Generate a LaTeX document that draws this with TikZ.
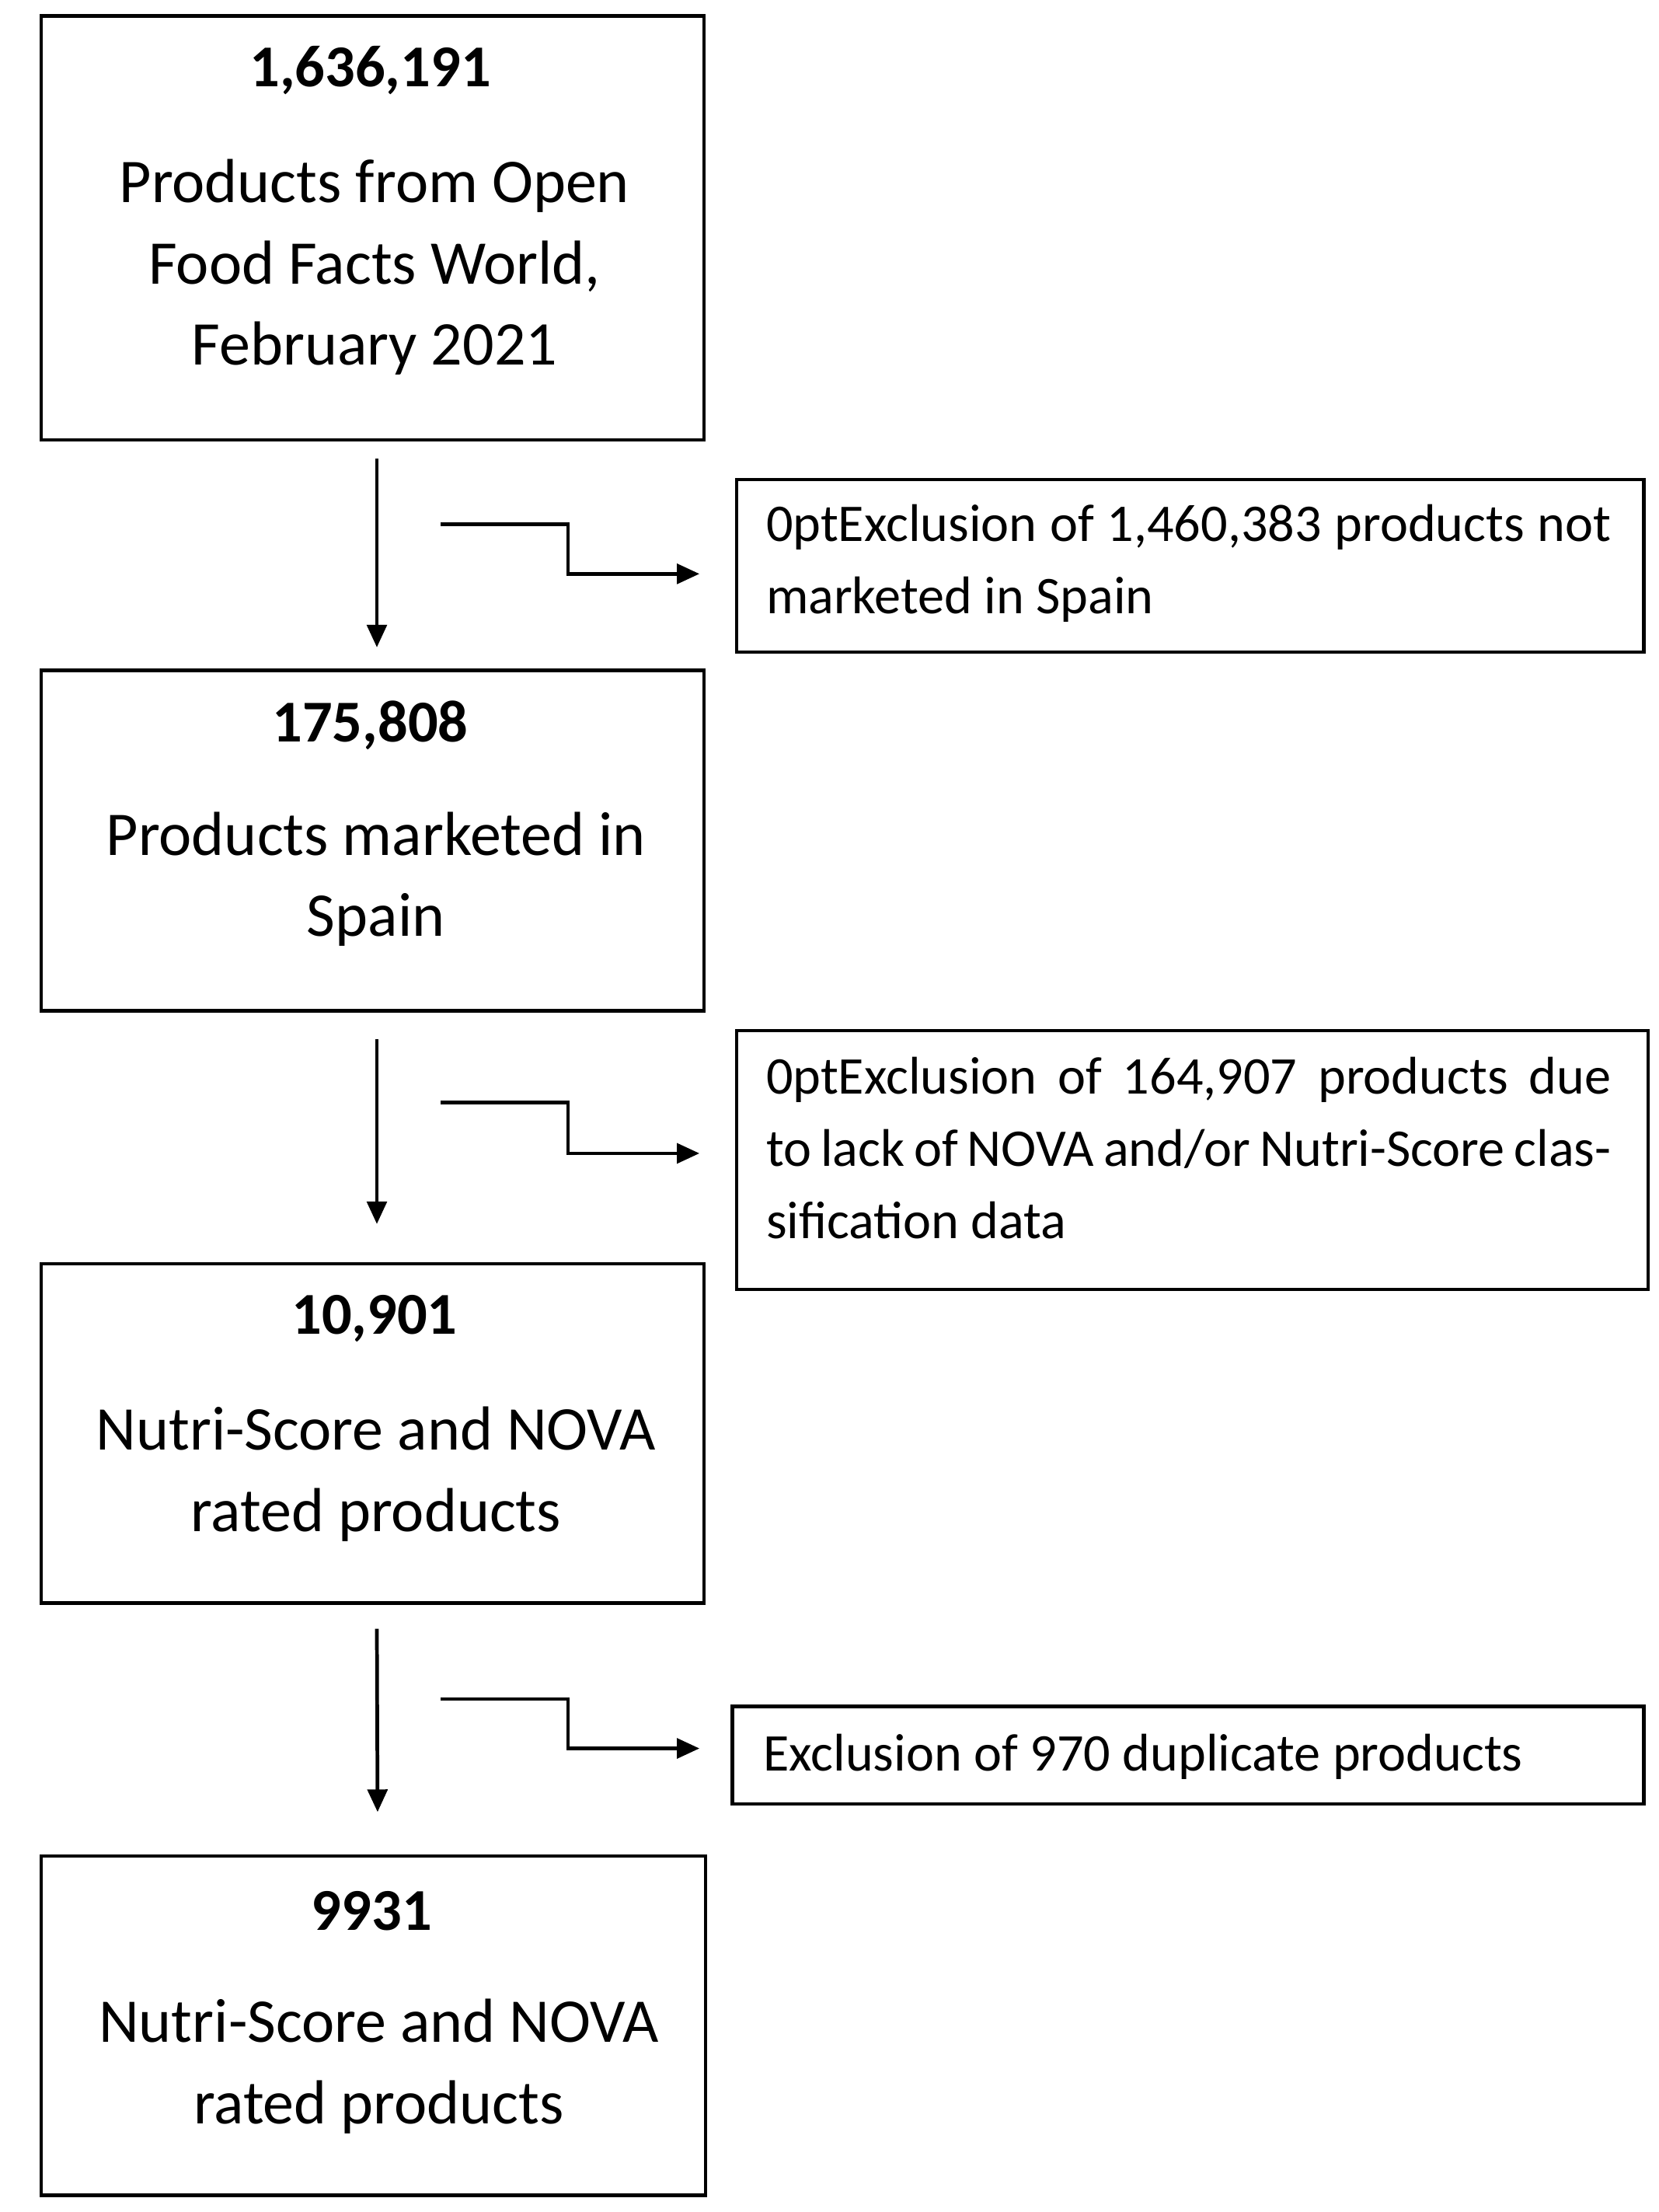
\documentclass[tikz,border=0pt]{standalone}
\usepackage{fontspec}
\setmainfont{Carlito}
\usetikzlibrary{arrows.meta,calc}
\begin{document}
\begin{tikzpicture}[x=1pt,y=-1pt,
  box/.style={draw,line width=2.4pt,inner sep=0pt,anchor=north west},
  num/.style={font=\fontsize{42}{48}\selectfont\bfseries},
  txt/.style={font=\fontsize{44}{57.5}\selectfont,align=center},
  rtxt/.style={font=\fontsize{37.5}{51}\selectfont\hyphenpenalty=10000\exhyphenpenalty=10000,align=justify,text width=598pt,inner sep=0pt,anchor=north west},
  arr/.style={line width=2.6pt,-{Triangle[length=16pt,width=14pt]}}]
\useasboundingbox (0,0) rectangle (1174,1565);
\node[box,minimum width=469pt,minimum height=300pt] (b1) at (28,10) {};
\node[box,minimum width=469pt,minimum height=241pt] (b2) at (28,473) {};
\node[box,minimum width=469pt,minimum height=240pt] (b3) at (28,893) {};
\node[box,minimum width=470pt,minimum height=240pt] (b4) at (28,1312) {};
\node[box,minimum width=642pt,minimum height=122pt] (r1) at (520,338) {};
\node[box,minimum width=645pt,minimum height=183pt] (r2) at (520,728) {};
\node[box,minimum width=645pt,minimum height=69pt] (r3) at (517,1206) {};
\node[num] (n1) at (262,50) {1,636,191};
\node[txt] (t1) at (265,189) {Products from Open\\Food Facts World,\\February 2021};
\node[num] (n2) at (262,513) {175,808};
\node[txt] (t2) at (266,622) {Products marketed in\\Spain};
\node[num] (n3) at (265,933) {10,901};
\node[txt] (t3) at (266,1043) {Nutri-Score and NOVA\\rated products};
\node[num] (n4) at (263,1352) {9931};
\node[txt] (t4) at (268,1462) {Nutri-Score and NOVA\\rated products};
\node[rtxt] (x1) at (542,357) {Exclusion of 1,460,383 products not marketed in Spain};
\node[rtxt] (x2) at (542,748) {Exclusion of 164,907 products due to lack of NOVA and/or Nutri-Score classification data};
\node[font=\fontsize{37.5}{51}\selectfont,anchor=west,inner sep=0pt] (x3) at (540,1243) {Exclusion of 970 duplicate products};
\draw[arr] ($(b1.south)+(3,12)$) -- ($(b2.north)+(3,-15)$);
\draw[arr] ($(b2.south)+(3,19)$) -- ($(b3.north)+(3,-27)$);
\draw[arr] ($(b3.south)+(3,17)$) -- ($(b4.north)+(3,-30)$);
\coordinate (e1) at (312,371);
\coordinate (e2) at (312,780);
\coordinate (e3) at (312,1202);
\draw[arr] (e1) -- (402,371) -- (402,406) -- ($(r1.west|-0,406)+(-25,0)$);
\draw[arr] (e2) -- (402,780) -- (402,816) -- ($(r2.west|-0,816)+(-25,0)$);
\draw[arr] (e3) -- (402,1202) -- (402,1237) -- ($(r3.west|-0,1237)+(-22,0)$);
\end{tikzpicture}
\end{document}
